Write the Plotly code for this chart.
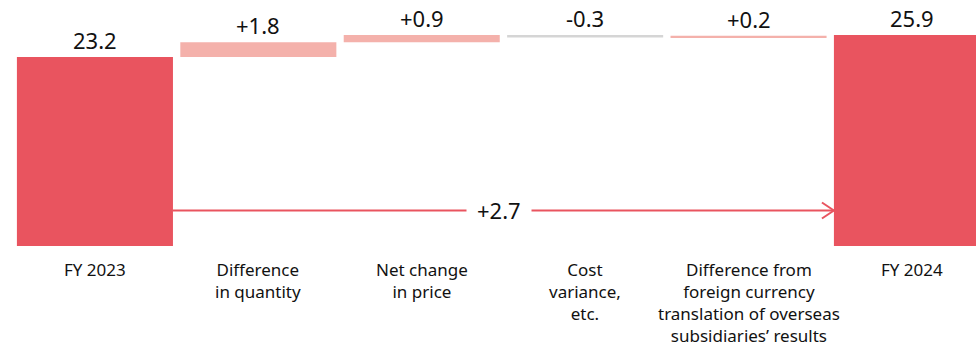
import plotly.graph_objects as go

# Operating profit bridge: FY 2023 -> FY 2024 (billions)
categories = [
    "FY 2023",
    "Difference<br>in quantity",
    "Net change<br>in price",
    "Cost<br>variance,<br>etc.",
    "Difference from<br>foreign currency<br>translation of overseas<br>subsidiaries’ results",
    "FY 2024",
]
start_value = 23.2
end_value = 25.9
deltas = [1.8, 0.9, -0.3, 0.2]

TOTAL_COLOR = "#E9545F"
UP_COLOR = "#F4B1AB"
DOWN_COLOR = "#D5D5D5"
FONT = "Noto Sans"

BAR_WIDTH = 0.955
ARROW_LEVEL = 4.36

# floating segments for each step of the bridge
bases, heights, colors, tops, texts = [], [], [], [], []
running = start_value
for d in deltas:
    bases.append(running)
    heights.append(d)
    colors.append(UP_COLOR if d >= 0 else DOWN_COLOR)
    tops.append(max(running, running + d))
    texts.append(f"{d:+.1f}")
    running += d

xs = list(range(len(categories)))

fig = go.Figure()
fig.add_trace(go.Bar(
    x=[xs[0], xs[-1]], y=[start_value, end_value], base=[0, 0],
    width=BAR_WIDTH, marker=dict(color=TOTAL_COLOR, line=dict(width=0)),
    hoverinfo="skip", showlegend=False,
))
fig.add_trace(go.Bar(
    x=xs[1:-1], y=heights, base=bases,
    width=BAR_WIDTH, marker=dict(color=colors, line=dict(width=0)),
    hoverinfo="skip", showlegend=False,
))

annotations = []
# value labels above each bar
label_pos = [(xs[0], start_value, f"{start_value:.1f}")]
label_pos += [(x, t, s) for x, t, s in zip(xs[1:-1], tops, texts)]
label_pos.append((xs[-1], end_value, f"{end_value:.1f}"))
for x, t, s in label_pos:
    annotations.append(dict(
        x=x, y=t, text=s, showarrow=False, xanchor="center", yanchor="bottom",
        yshift=0, font=dict(family=FONT, size=22, color="#111111"),
    ))

# category labels under the bars
for x, c in zip(xs, categories):
    annotations.append(dict(
        x=x, xref="x", y=0, yref="paper", text=c, showarrow=False,
        xanchor="center", yanchor="top", yshift=-10, align="center",
        font=dict(family=FONT, size=17, color="#111111"),
    ))

# overall change marker between the two totals
x_from = xs[0] + BAR_WIDTH / 2
x_to = xs[-1] - BAR_WIDTH / 2
shapes = [
    dict(type="line", xref="x", yref="y", x0=x_from, x1=x_to,
         y0=ARROW_LEVEL, y1=ARROW_LEVEL, line=dict(color=TOTAL_COLOR, width=2)),
    dict(type="line", xref="x", yref="y", xsizemode="pixel", ysizemode="pixel",
         xanchor=x_to, yanchor=ARROW_LEVEL, x0=-12, x1=0, y0=8, y1=0,
         line=dict(color=TOTAL_COLOR, width=2)),
    dict(type="line", xref="x", yref="y", xsizemode="pixel", ysizemode="pixel",
         xanchor=x_to, yanchor=ARROW_LEVEL, x0=-12, x1=0, y0=-8, y1=0,
         line=dict(color=TOTAL_COLOR, width=2)),
]
annotations.append(dict(
    x=(xs[0] + xs[-1]) / 2, y=ARROW_LEVEL, text=f"{end_value - start_value:+.1f}",
    showarrow=False, xanchor="center", yanchor="middle", bgcolor="white",
    borderpad=10, xshift=-4,
    font=dict(family=FONT, size=22, color="#111111"),
))

fig.update_layout(
    width=976, height=351,
    margin=dict(l=0, r=0, t=0, b=105),
    paper_bgcolor="white", plot_bgcolor="white",
    barmode="overlay",
    xaxis=dict(range=[-0.581, 5.392], showgrid=False, zeroline=False,
               showticklabels=False, ticks="", fixedrange=True),
    yaxis=dict(range=[0, 30.2], showgrid=False, zeroline=False,
               showticklabels=False, ticks="", fixedrange=True),
    shapes=shapes, annotations=annotations,
)

fig.write_html("out.html")
